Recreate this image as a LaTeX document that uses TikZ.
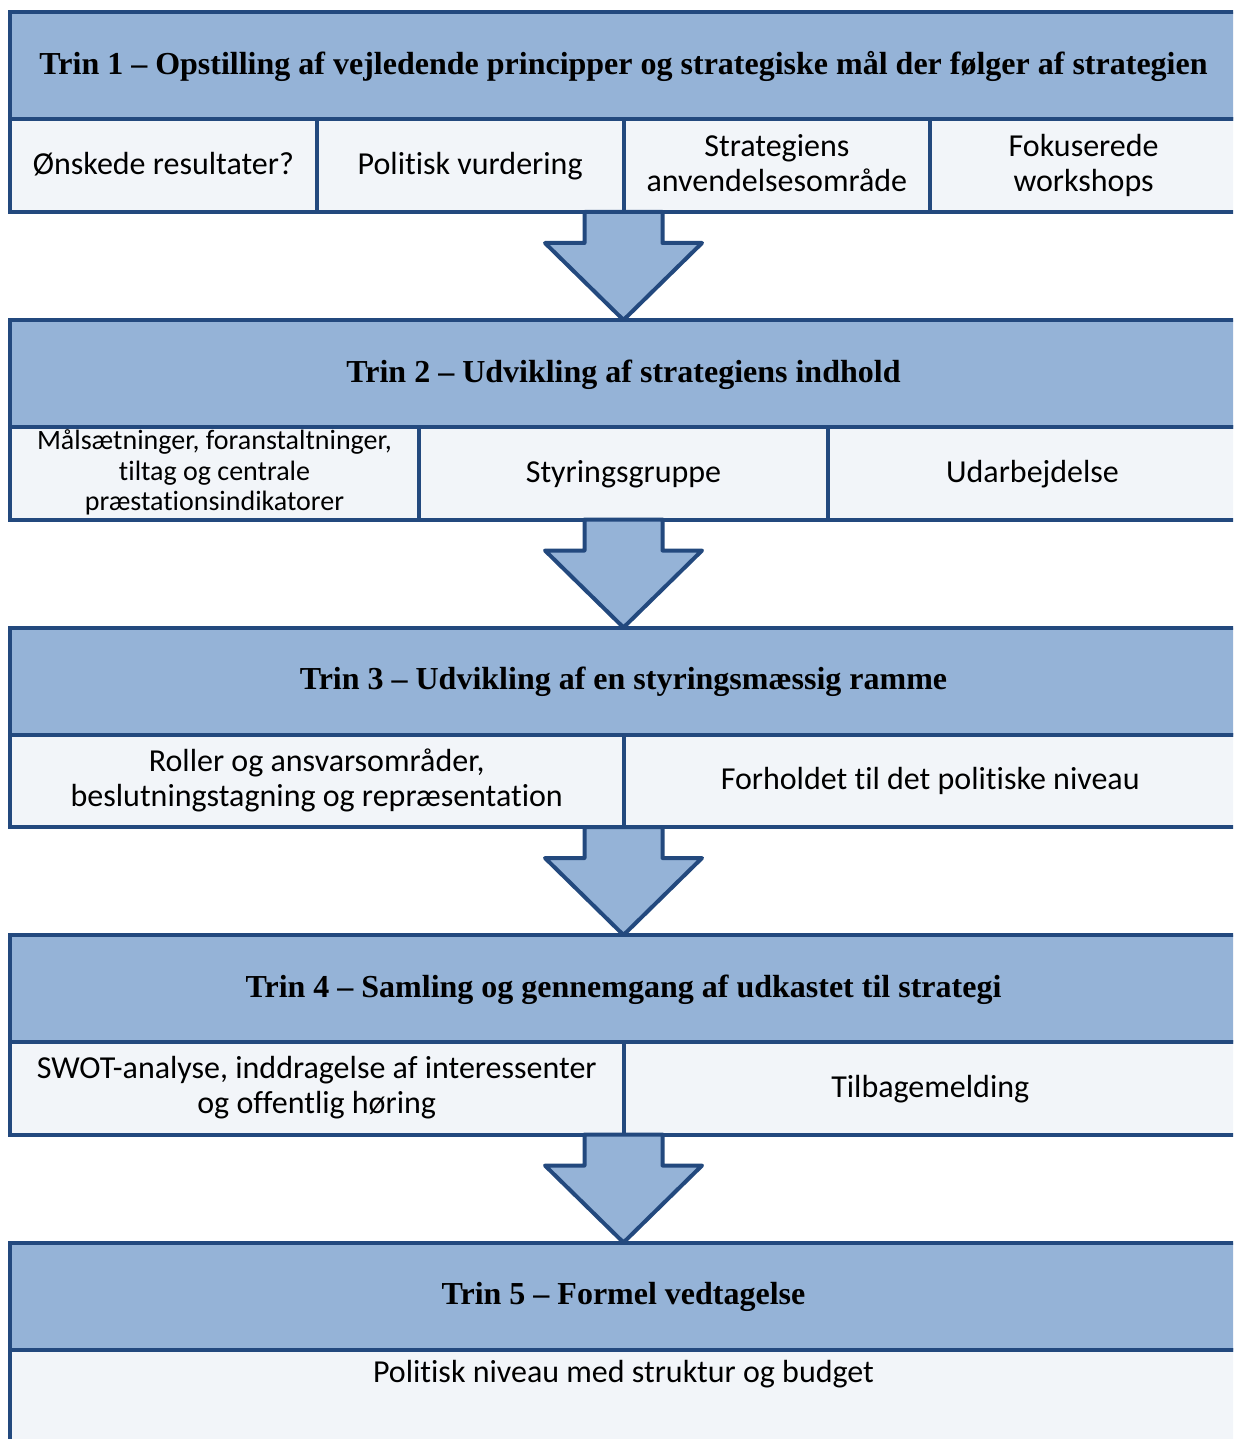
\documentclass[tikz,border=0pt]{standalone}
\usepackage{fontspec}
\setmainfont{Carlito}[Ligatures=NoCommon]
\newfontfamily\hdrfont{Liberation Serif}
\usetikzlibrary{positioning,calc}
\definecolor{hdrblue}{HTML}{95B3D7}
\definecolor{lineblue}{HTML}{23497E}
\definecolor{boxfill}{HTML}{F2F5F9}

\begin{document}
\begin{tikzpicture}[
    x=0.5pt, y=-0.5pt,
    hdr/.style={draw=lineblue, fill=hdrblue, line width=2pt, outer sep=0pt, inner sep=2pt,
        minimum width=613.5pt, minimum height=53.5pt, text height=12pt, text depth=3.3pt,
        font=\hdrfont\bfseries\fontsize{16}{19}\selectfont},
    sub/.style={draw=lineblue, fill=boxfill, line width=2pt, outer sep=0pt, inner sep=2pt,
        minimum height=46.25pt, align=center, text height=13pt, text depth=4pt,
        font=\fontsize{16}{17.5}\selectfont},
    subtwo/.style={sub, text height=28.7pt, text depth=3pt},
    smsub/.style={sub, inner ysep=0pt, text height=40.6pt, text depth=3pt, font=\fontsize{14}{15.25}\selectfont},
    blk/.style={draw=lineblue, fill=hdrblue, line width=2pt, line join=round}
]
    \useasboundingbox (0,0) rectangle (1233,1439);
    \clip (0,0) rectangle (1233,1439);

    % Trin 1
    \node[hdr, anchor=north west] (hdra) at (10,12.5) {Trin 1 – Opstilling af vejledende principper og strategiske mål der følger af strategien};
    \node[sub, minimum width=153.375pt, below right=0pt of hdra.south west] (suba1) {Ønskede resultater?};
    \node[sub, minimum width=153.375pt, right=0pt of suba1] (suba2) {Politisk vurdering};
    \node[subtwo, minimum width=153.375pt, right=0pt of suba2] (suba3) {Strategiens\\anvendelsesområde};
    \node[subtwo, minimum width=153.375pt, right=0pt of suba3] (suba4) {Fokuserede\\workshops};

    % Trin 2
    \node[hdr, below=54pt] (hdrb) at (hdra.south |- suba1.south) {Trin 2 – Udvikling af strategiens indhold};
    \node[smsub, minimum width=204.5pt, below right=0pt of hdrb.south west] (subb1) {Målsætninger, foranstaltninger,\\tiltag og centrale\\præstationsindikatorer};
    \node[sub, minimum width=204.5pt, right=0pt of subb1] (subb2) {Styringsgruppe};
    \node[sub, minimum width=204.5pt, right=0pt of subb2] (subb3) {Udarbejdelse};

    % Trin 3
    \node[hdr, below=54pt] (hdrc) at (hdrb.south |- subb1.south) {Trin 3 – Udvikling af en styringsmæssig ramme};
    \node[subtwo, minimum width=306.75pt, below right=0pt of hdrc.south west] (subc1) {Roller og ansvarsområder,\\beslutningstagning og repræsentation};
    \node[sub, minimum width=306.75pt, right=0pt of subc1] (subc2) {Forholdet til det politiske niveau};

    % Trin 4
    \node[hdr, below=54pt] (hdrd) at (hdrc.south |- subc1.south) {Trin 4 – Samling og gennemgang af udkastet til strategi};
    \node[subtwo, minimum width=306.75pt, below right=0pt of hdrd.south west] (subd1) {SWOT-analyse, inddragelse af interessenter\\og offentlig høring};
    \node[sub, minimum width=306.75pt, right=0pt of subd1] (subd2) {Tilbagemelding};

    % Trin 5
    \node[hdr, below=54pt] (hdre) at (hdrd.south |- subd1.south) {Trin 5 – Formel vedtagelse};
    \node[sub, minimum width=613.5pt, inner ysep=4.35pt, text height=12pt, text depth=60pt,
        below right=0pt of hdre.south west] (sube1) {Politisk niveau med struktur og budget};

    % block arrows
    \draw[blk] (hdrb.north) -- ++(-78.5,-77) -- ++(39.5,0) -- ++(0,-31) -- ++(78,0) -- ++(0,31) -- ++(39.5,0) -- cycle;
    \draw[blk] (hdrc.north) -- ++(-78.5,-77) -- ++(39.5,0) -- ++(0,-31) -- ++(78,0) -- ++(0,31) -- ++(39.5,0) -- cycle;
    \draw[blk] (hdrd.north) -- ++(-78.5,-77) -- ++(39.5,0) -- ++(0,-31) -- ++(78,0) -- ++(0,31) -- ++(39.5,0) -- cycle;
    \draw[blk] (hdre.north) -- ++(-78.5,-77) -- ++(39.5,0) -- ++(0,-31) -- ++(78,0) -- ++(0,31) -- ++(39.5,0) -- cycle;
\end{tikzpicture}
\end{document}
